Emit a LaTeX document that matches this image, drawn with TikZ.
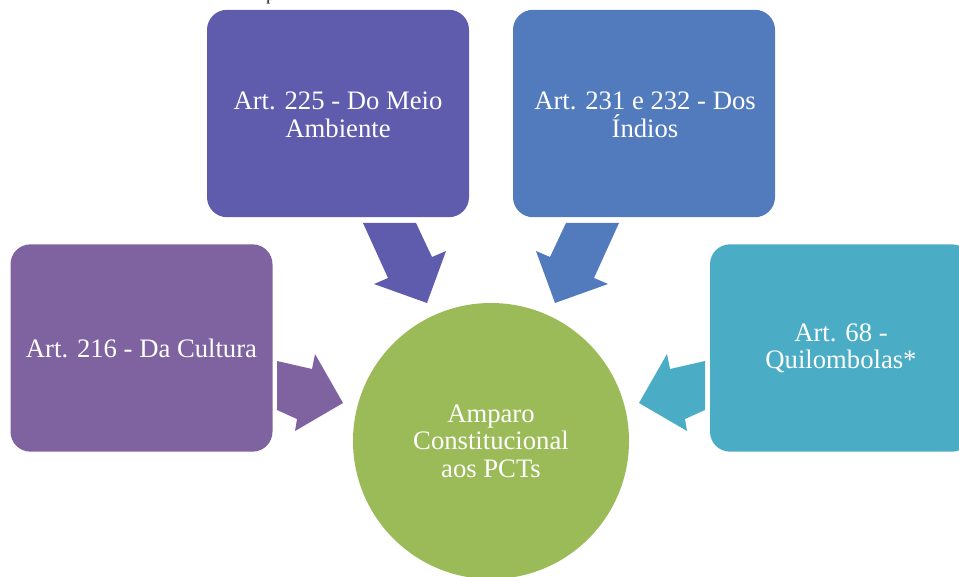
\documentclass[tikz,border=0pt]{standalone}
\usepackage{fontspec}
\setmainfont{Liberation Serif}
\definecolor{cMeio}{HTML}{5F5BAD}
\definecolor{cIndios}{HTML}{527BBD}
\definecolor{cCult}{HTML}{7F63A1}
\definecolor{cQuil}{HTML}{4BACC6}
\definecolor{cCirc}{HTML}{9BBB59}
\begin{document}
\begin{tikzpicture}[x=0.75pt,y=-0.75pt,
  txt/.style={text=white, align=center, inner sep=0pt, font=\fontsize{20}{20.5}\selectfont},
  box/.style={txt, rounded corners=15pt, minimum width=196.5pt, minimum height=155.5pt},
  circ/.style={txt, circle, minimum size=207pt},
  blockarrow/.style={draw=none}
]
\useasboundingbox (0,0) rectangle (959,577);
\clip (0,0) rectangle (959,577);
% fragment of a text line above the picture
\node[anchor=base west, inner sep=0pt, font=\fontsize{12}{12}\selectfont] (frag) at (266,0.5) {p};
% boxes
\node[box, fill=cMeio] (meio) at (338,113.5) {};
\node[txt, anchor=north] (tmeio) at (338,92) {Art. 225 - Do Meio\\Ambiente};
\node[box, fill=cIndios] (indios) at (644,113.5) {};
\node[txt, anchor=north] (tindios) at (645,92) {Art. 231 e 232 - Dos\\Índios};
\node[box, fill=cCult] (cult) at (141.5,348) {Art. 216 - Da Cultura};
\node[box, fill=cQuil] (quil) at (841,348) {Art. 68 -\\Quilombolas*};
\node[circ, fill=cCirc] (pct) at (491,441) {Amparo\\Constitucional\\aos PCTs};
% block arrows
\fill[cCult, blockarrow] (277,361) -- (312,369) -- (315,354) -- (343,403) -- (295,431) -- (297,419) -- (277,410) -- cycle;
\fill[cQuil, blockarrow] (705,361) -- (670,369) -- (667,354) -- (639,403) -- (687,431) -- (685,419) -- (705,410) -- cycle;
\fill[cMeio, blockarrow] (363,223) -- (416,223) -- (432,257) -- (446,251) -- (427,303) -- (374,284) -- (388,278) -- cycle;
\fill[cIndios, blockarrow] (619,223) -- (566,223) -- (550,257) -- (536,251) -- (555,303) -- (608,284) -- (594,278) -- cycle;
\end{tikzpicture}
\end{document}
